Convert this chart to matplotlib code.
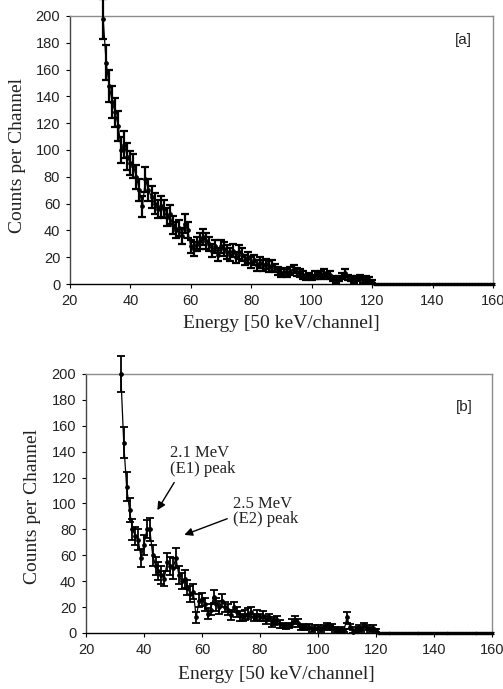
import numpy as np
import matplotlib
matplotlib.use("Agg")
import matplotlib.pyplot as plt

# channel numbers (one point per channel), tail of zeros after channel 120
chan = list(range(31, 121))
chan_b = list(range(32, 121))
zero_chan = list(range(121, 161))

# panel [a] counts and errors
counts_a = [198, 165, 148, 136, 128, 118, 100, 104, 95, 90,
            88, 80, 70, 58, 78, 70, 65, 60, 56, 58,
            56, 50, 52, 44, 40, 42, 36, 45, 40, 28,
            26, 30, 32, 35, 32, 30, 25, 28, 22, 28,
            26, 24, 22, 25, 20, 24, 22, 18, 20, 16,
            18, 14, 16, 14, 15, 13, 14, 12, 10, 8,
            9, 8, 10, 11, 9, 8, 7, 5, 6, 5,
            7, 6, 7, 8, 6, 7, 4, 3, 4, 6,
            8, 5, 4, 3, 4, 5, 3, 4, 3, 2]
err_a = [15, 13, 12, 12, 11, 11, 10, 10, 10, 9,
         9, 9, 8, 8, 9, 8, 8, 8, 7, 8,
         7, 7, 7, 7, 6, 6, 6, 7, 6, 5,
         5, 5, 6, 6, 6, 5, 5, 5, 5, 5,
         5, 5, 5, 5, 4, 5, 5, 4, 4, 4,
         4, 4, 4, 4, 4, 4, 4, 3, 3, 3,
         3, 3, 3, 3, 3, 3, 3, 2, 2, 2,
         3, 2, 3, 3, 2, 3, 2, 2, 2, 2,
         3, 2, 2, 2, 2, 2, 2, 2, 2, 1]

# panel [b] counts and errors
counts_b = [200, 147, 113, 95, 80, 75, 72, 58, 68, 80,
            80, 60, 52, 48, 45, 42, 55, 52, 50, 58,
            45, 40, 42, 35, 30, 32, 12, 25, 26, 22,
            15, 18, 28, 22, 20, 25, 20, 18, 14, 20,
            16, 13, 12, 14, 15, 16, 12, 14, 12, 13,
            10, 12, 8, 9, 10, 7, 6, 5, 6, 8,
            10, 8, 4, 5, 4, 5, 3, 4, 4, 3,
            4, 6, 4, 5, 3, 2, 3, 2, 12, 5,
            1, 3, 4, 3, 6, 4, 3, 4, 2]
err_b = [14, 12, 11, 9, 8, 7, 8, 7, 8, 7,
         9, 8, 7, 7, 7, 6, 7, 7, 8, 8,
         7, 6, 7, 6, 6, 6, 4, 5, 5, 5,
         4, 4, 5, 5, 5, 5, 4, 4, 4, 4,
         4, 4, 3, 4, 4, 4, 3, 4, 3, 4,
         3, 3, 3, 3, 3, 3, 2, 2, 2, 3,
         3, 3, 2, 2, 2, 2, 2, 2, 2, 2,
         2, 2, 2, 2, 2, 1, 2, 1, 4, 2,
         1, 2, 2, 2, 2, 2, 2, 2, 1]

xticks = [20, 40, 60, 80, 100, 120, 140, 160]
yticks = [0, 20, 40, 60, 80, 100, 120, 140, 160, 180, 200]

serif = ["Liberation Serif", "DejaVu Serif"]
sans = ["Liberation Sans", "DejaVu Sans"]

fig = plt.figure(figsize=(5.03, 6.89), dpi=100)
ax_a = fig.add_axes([0.139, 0.5878, 0.841, 0.389])
ax_b = fig.add_axes([0.171, 0.0813, 0.807, 0.3759])


def draw_panel(ax, x, y, e, tag, lw, tag_pos):
    ax.plot(x, y, color="black", lw=0.9, zorder=2, clip_on=False)
    ax.errorbar(x, y, yerr=e, fmt="o", ms=2.4, color="black", ecolor="black",
                elinewidth=lw, capsize=2.6, capthick=lw, zorder=3, clip_on=False)
    z = [0] * len(zero_chan)
    ax.errorbar(zero_chan, z, yerr=0.6, fmt="s", ms=1.5, color="black",
                elinewidth=0.8, capsize=1.2, capthick=0.8, zorder=3, clip_on=False)
    ax.plot([x[-1]] + zero_chan, [y[-1]] + z, color="black", lw=1.2, clip_on=False)
    ax.set_xlim(20, 160)
    ax.set_ylim(0, 200)
    ax.set_xticks(xticks)
    ax.set_yticks(yticks)
    for lab in ax.get_xticklabels() + ax.get_yticklabels():
        lab.set_family(sans)
        lab.set_fontsize(10.5)
        lab.set_color("#222222")
    ax.tick_params(direction="out", length=3, width=0.8, pad=4)
    ax.spines["top"].set_color("#8c8c8c")
    ax.spines["right"].set_color("#8c8c8c")
    ax.spines["left"].set_color("#444444")
    ax.spines["bottom"].set_color("black")
    for s in ax.spines.values():
        s.set_linewidth(1.0)
    ax.set_ylabel("Counts per Channel", family=serif, fontsize=14, color="#222222")
    ax.set_xlabel("Energy [50 keV/channel]", family=serif, fontsize=14, color="#222222")
    ax.text(tag_pos[0], tag_pos[1], tag, transform=ax.transAxes, family=sans,
            fontsize=11, ha="center", va="center", color="#222222")


draw_panel(ax_a, chan, counts_a, err_a, "[a]", 1.6, (0.931, 0.91))
draw_panel(ax_b, chan_b, counts_b, err_b, "[b]", 1.3, (0.933, 0.873))

ax_a.yaxis.set_label_coords(-0.104, 0.48)
ax_a.xaxis.set_label_coords(0.5, -0.115)
ax_b.yaxis.set_label_coords(-0.112, 0.487)
ax_b.xaxis.set_label_coords(0.47, -0.128)

# peak annotations in panel [b]
ax_b.annotate("", xy=(44.1, 93), xytext=(50.9, 118),
              arrowprops=dict(arrowstyle="-|>", color="black", lw=1.0, mutation_scale=12))
ax_b.text(48.9, 145, "2.1 MeV\n(E1) peak", family=serif, fontsize=12,
          ha="left", va="top", linespacing=0.95, color="#222222")
ax_b.annotate("", xy=(53, 75), xytext=(69.6, 89),
              arrowprops=dict(arrowstyle="-|>", color="black", lw=1.0, mutation_scale=12))
ax_b.text(70.8, 106, "2.5 MeV\n(E2) peak", family=serif, fontsize=12,
          ha="left", va="top", linespacing=0.95, color="#222222")

fig.savefig("out.png", dpi=100)
